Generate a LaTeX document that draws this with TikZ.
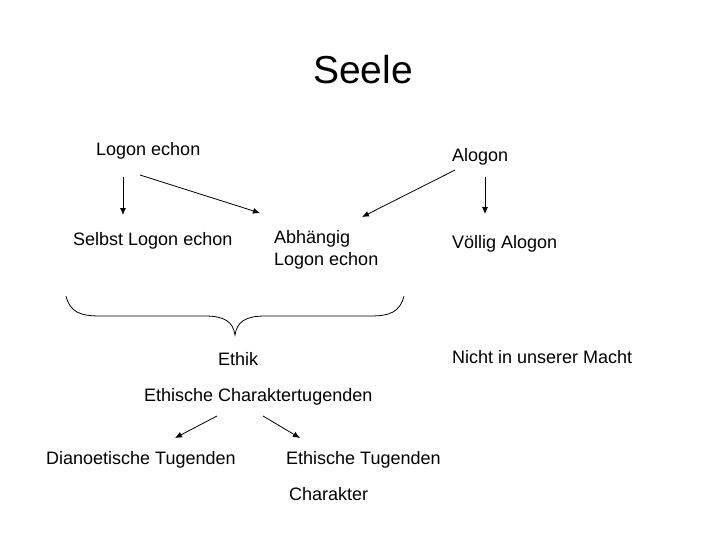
\documentclass[tikz,border=0pt]{standalone}
\usepackage{fontspec}
\setmainfont{Liberation Sans}
\usetikzlibrary{arrows.meta}
\begin{document}
\begin{tikzpicture}[x=1pt,y=-1pt,
  lbl/.style={anchor=west,inner sep=0pt,font=\fontsize{18}{22}\selectfont,align=left},
  arr/.style={-{Latex[length=7pt,width=6pt]},line width=0.8pt}]
\useasboundingbox (0,0) rectangle (728,546);
\node[inner sep=0pt,font=\fontsize{39}{46}\selectfont] (seele) at (363,70) {Seele};
\node[lbl] (le) at (96,151) {Logon echon};
\node[lbl] (al) at (452,157) {Alogon};
\node[lbl] (sle) at (73,241) {Selbst Logon echon};
\node[lbl] (ab) at (274,250) {Abhängig\\Logon echon};
\node[lbl] (va) at (452,244) {Völlig Alogon};
\node[lbl] (nm) at (452,357) {Nicht in unserer Macht};
\node[lbl] (et) at (218,359) {Ethik};
\node[lbl] (ec) at (144,397) {Ethische Charaktertugenden};
\node[lbl] (dt) at (46,460) {Dianoetische Tugenden};
\node[lbl] (eth) at (286,460) {Ethische Tugenden};
\node[lbl] (ch) at (289,494) {Charakter};
\coordinate (a1) at (123,177); \coordinate (a2) at (123,215);
\coordinate (b1) at (140,175); \coordinate (b2) at (260,213);
\coordinate (c1) at (455,170); \coordinate (c2) at (362,217);
\coordinate (d1) at (485,177); \coordinate (d2) at (485,214);
\coordinate (e1) at (217,416); \coordinate (e2) at (175,438);
\coordinate (f1) at (263,416); \coordinate (f2) at (300,438);
\draw[arr] (a1)--(a2); \draw[arr] (b1)--(b2); \draw[arr] (c1)--(c2);
\draw[arr] (d1)--(d2); \draw[arr] (e1)--(e2); \draw[arr] (f1)--(f2);
\draw[line width=0.8pt] (66,296) .. controls (70,312) and (80,316) .. (100,316)
  -- (205,316) .. controls (225,316) and (233,322) .. (235,335)
  .. controls (237,322) and (245,316) .. (265,316)
  -- (370,316) .. controls (390,316) and (400,312) .. (404,296);
\end{tikzpicture}
\end{document}
